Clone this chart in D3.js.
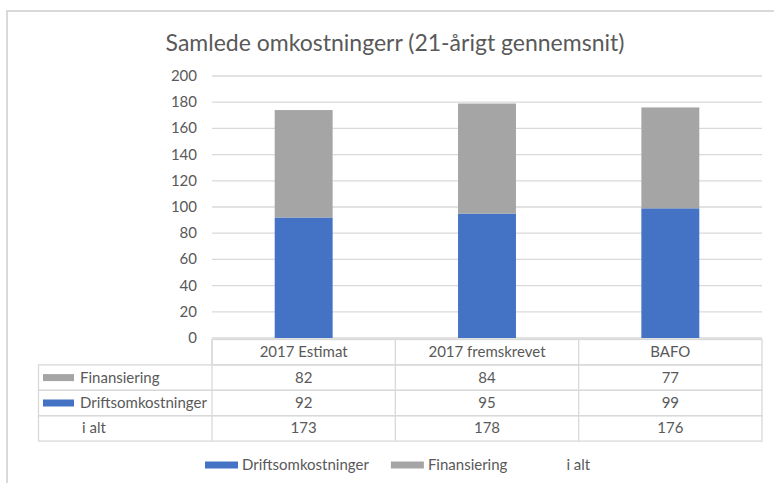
<!DOCTYPE html>
<html>
<meta charset="utf-8">
<style>
body { margin: 0; background: #fff; }
text { font-family: Lato, "Open Sans", sans-serif; fill: #595959; }
</style>
<script src="https://d3js.org/d3.v7.min.js"></script>
<body>
<div id="chart"></div>
<script>
// data
var categories = ["2017 Estimat", "2017 fremskrevet", "BAFO"];
var drift = [92, 95, 99];        // Driftsomkostninger
var finans = [82, 84, 77];       // Finansiering
var total = [173, 178, 176];     // i alt
var yTicks = [0, 20, 40, 60, 80, 100, 120, 140, 160, 180, 200];

var width = 774, height = 483;
var blue = "#4472C4", grey = "#A5A5A5", line = "#D9D9D9";
var fs = "15px";

var svg = d3.select("#chart").append("svg")
    .attr("width", width)
    .attr("height", height);

// chart frame (runs off the right and bottom edge)
svg.append("rect")
    .attr("x", 7).attr("y", 11)
    .attr("width", 800).attr("height", 520)
    .attr("fill", "none")
    .attr("stroke", line)
    .attr("stroke-width", 2);

svg.append("text")
    .attr("x", 395).attr("y", 51)
    .attr("text-anchor", "middle")
    .style("font-size", "23px")
    .text("Samlede omkostningerr (21-årigt gennemsnit)");

var x = d3.scaleBand().domain(categories).range([212, 762]);
var y = d3.scaleLinear().domain([0, 200]).range([338, 76]);

// gridlines + y labels
svg.append("g").selectAll("line")
    .data(yTicks).enter().append("line")
    .attr("x1", 212).attr("x2", 762)
    .attr("y1", d => y(d)).attr("y2", d => y(d))
    .attr("stroke", line).attr("stroke-width", 1.3);

svg.append("g").selectAll("text")
    .data(yTicks).enter().append("text")
    .attr("x", 197).attr("y", d => y(d) + 5)
    .attr("text-anchor", "end")
    .style("font-size", fs)
    .text(d => d);

// stacked bars
var barW = x.bandwidth() * 0.316;
var rows = categories.map((c, i) => ({ cat: c, drift: drift[i], finans: finans[i] }));
var stack = d3.stack().keys(["drift", "finans"])(rows);
var colors = { drift: blue, finans: grey };

svg.append("g").selectAll("g")
    .data(stack).enter().append("g")
    .attr("fill", d => colors[d.key])
    .selectAll("rect")
    .data(d => d).enter().append("rect")
    .attr("x", d => x(d.data.cat) + (x.bandwidth() - barW) / 2)
    .attr("width", barW)
    .attr("y", d => y(d[1]))
    .attr("height", d => y(d[0]) - y(d[1]));

// data table
var rowH = 25.4, tableTop = 339.5, left = 38.5;
var tableRows = [
    { name: "Finansiering", color: grey, vals: finans },
    { name: "Driftsomkostninger", color: blue, vals: drift },
    { name: "i alt", color: null, vals: total }
];
var tg = svg.append("g");

// header row
tg.append("rect")
    .attr("x", 212).attr("y", tableTop)
    .attr("width", 550).attr("height", rowH)
    .attr("fill", "none").attr("stroke", line).attr("stroke-width", 1.3);
tg.selectAll(".hd")
    .data(categories).enter().append("text")
    .attr("x", d => x(d) + x.bandwidth() / 2)
    .attr("y", tableTop + rowH / 2 + 5)
    .attr("text-anchor", "middle")
    .style("font-size", fs)
    .text(d => d);

// body rows
tableRows.forEach(function (r, i) {
    var ry = tableTop + rowH * (i + 1);
    tg.append("rect")
        .attr("x", left).attr("y", ry)
        .attr("width", 762 - left).attr("height", rowH)
        .attr("fill", "none").attr("stroke", line).attr("stroke-width", 1.3);
    if (r.color) {
        tg.append("rect")
            .attr("x", 43).attr("y", ry + rowH / 2 - 3.5)
            .attr("width", 31).attr("height", 7)
            .attr("fill", r.color);
    }
    tg.append("text")
        .attr("x", r.color ? 80 : 82).attr("y", ry + rowH / 2 + 5)
        .style("font-size", fs)
        .text(r.name);
    tg.selectAll(null)
        .data(r.vals).enter().append("text")
        .attr("x", (d, j) => x(categories[j]) + x.bandwidth() / 2)
        .attr("y", ry + rowH / 2 + 5)
        .attr("text-anchor", "middle")
        .style("font-size", fs)
        .text(d => d);
});
// column dividers
tg.selectAll(".cd")
    .data(categories).enter().append("line")
    .attr("x1", d => x(d)).attr("x2", d => x(d))
    .attr("y1", tableTop).attr("y2", tableTop + rowH * 4)
    .attr("stroke", line).attr("stroke-width", 1.3);

// legend
var legend = [
    { name: "Driftsomkostninger", color: blue },
    { name: "Finansiering", color: grey },
    { name: "i alt", color: null }
];
var lx = 205, ly = 465;
legend.forEach(function (l) {
    if (l.color) {
        svg.append("rect")
            .attr("x", lx).attr("y", ly - 3.5)
            .attr("width", 33).attr("height", 7)
            .attr("fill", l.color);
    }
    var t = svg.append("text")
        .attr("x", lx + 37).attr("y", ly + 5)
        .style("font-size", fs)
        .text(l.name);
    lx += 37 + t.node().getComputedTextLength() + 22;
});
</script>
</body>
</html>
